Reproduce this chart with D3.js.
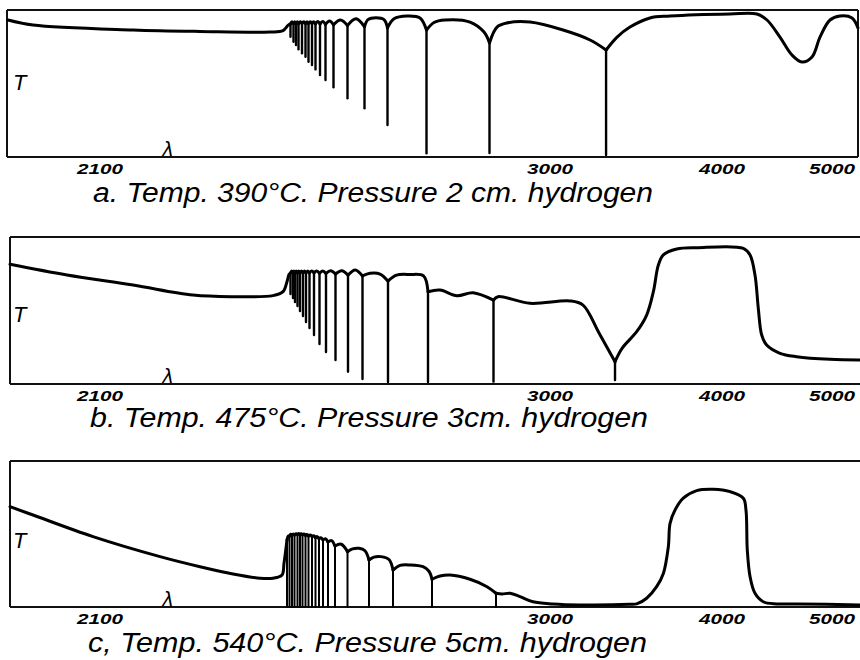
<!DOCTYPE html>
<html><head><meta charset="utf-8">
<script src="https://cdn.jsdelivr.net/npm/d3@7"></script>
<style>body{margin:0;background:#fff}svg{display:block}</style>
</head><body>
<svg id="chart" width="860" height="660"></svg>
<script>
// ---- data (wavelength λ in Å, transmission T in % of panel height) ----
const tickValues = [2100, 3000, 4000, 5000];
const tickLabels = ["2100", "3000", "4000", "5000"];
const captions = [
  "a. Temp. 390°C. Pressure  2 cm. hydrogen",
  "b. Temp. 475°C. Pressure 3cm. hydrogen",
  "c, Temp. 540°C. Pressure 5cm. hydrogen"
];

// Panel a: 390°C, 2 cm H2
const curveA = [
  [1916,93.2],[1966,89.8],[2166,86.4],[2300,85.4],[2440,85.0],[2466,86.0],[2476,89.5],
  [2481,90.5],[2484,92.0],[2487,90.8],[2489.5,92.0],[2492,90.8],[2494.5,92.0],[2497,90.8],
  [2500.5,92.0],[2504,90.8],[2507.5,92.0],[2511,90.8],[2514,92.0],[2517,90.8],[2520.5,92.0],
  [2524,90.8],[2527.5,92.0],[2531,90.6],[2535.5,92.2],[2540,90.5],[2545.5,92.2],[2551,90.2],
  [2559,92.5],[2567,90.0],[2581,93.2],[2595,89.5],[2612,94.0],[2629,88.6],
  [2636,93.5],[2652,94.8],[2668,93.5],[2675,87.8],
  [2688,94.0],[2714,95.9],[2740,94.6],[2753,86.4],
  [2768,91.5],[2790,93.2],[2840,91.8],[2868,85.0],[2879,77.6],
  [2894,88.4],[2914,91.2],[2960,91.8],[3076,86.4],[3233,79.6],[3326,72.8],
  [3390,81.6],[3465,88.4],[3581,94.6],[3698,95.9],[4073,97.3],[4318,97.3],[4409,93.2],
  [4527,81.6],[4636,69.4],[4727,64.6],[4818,68.0],[4891,81.6],[4982,93.2],[5073,95.9],
  [5182,94.6],[5236,87.8]
];
const linesA = [
  [2481,81.8],[2487,78.4],[2492,76.2],[2497,73.3],[2504,70.5],[2511,68.2],[2517,64.8],
  [2524,62.6],[2531,59.6],[2540,55.8],[2551,52.4],[2567,47.4],[2595,39.9],[2629,33.1],
  [2675,21.8],[2753,2.5],[2879,2.7],[3326,1.4]
];

// Panel b: 475°C, 3 cm H2
const curveB = [
  [1920,81.4],[2034,74.1],[2166,67.3],[2286,60.5],[2366,59.4],[2446,60.1],[2466,62.8],
  [2474,69.6],[2478,74.5],
  [2481,75.5],[2483.5,76.9],[2486,75.6],[2488,76.9],[2490,75.6],[2492.5,76.9],[2495,75.6],
  [2497.5,76.9],[2500,75.6],[2503,76.9],[2506,75.6],[2509,76.9],[2512,75.6],[2515.5,76.9],
  [2519,75.6],[2523.5,76.9],[2528,75.6],[2533.5,76.9],[2539,75.4],[2545.5,76.9],[2552,75.2],
  [2561.5,77.0],[2571,74.8],[2583.5,77.1],[2596,74.1],[2610.5,77.6],[2625,73.5],
  [2640,75.3],[2660,74.8],[2676,70.0],[2693,74.1],[2720,74.5],[2747,73.5],[2756,62.8],
  [2780,63.9],[2814,60.1],[2846,62.1],[2887,57.1],
  [2896,59.4],[2960,54.9],[3116,56.5],[3192,53.7],[3285,34.7],[3378,15.2],
  [3419,24.3],[3504,35.6],[3562,46.9],[3601,62.8],[3630,80.9],[3659,87.8],[3737,91.8],
  [3853,92.7],[4194,92.3],[4255,87.8],[4300,74.1],[4330,51.5],[4361,33.3],[4406,26.5],
  [4527,20.9],[4679,18.6],[4982,16.8],[5255,16.3]
];
const linesB = [
  [2481,61.2],[2486,58.5],[2490,55.8],[2495,53.1],[2500,49.7],[2506,46.3],[2512,42.2],
  [2519,38.1],[2528,33.3],[2539,27.2],[2552,21.8],[2571,16.3],[2596,8.4],[2625,3.4],
  [2676,1.4],[2756,1.4],[2887,1.6],[3378,2.7]
];

// Panel c: 540°C, 5 cm H2
const curveC = [
  [1920,68.7],[1966,63.0],[2086,48.2],[2220,34.5],[2300,27.6],[2366,22.6],[2420,19.7],
  [2446,19.7],[2464,21.9],[2468,29.9],
  [2474,45.9],[2476.5,48.6],[2479,48.6],[2481.5,49.8],[2484,49.3],[2486.5,50.0],[2489,49.3],
  [2492,50.2],[2495,49.6],[2497.5,50.4],[2500,49.6],[2502.5,50.2],[2505,49.3],[2508,50.0],
  [2511,49.0],[2514,49.6],[2517,48.6],[2520.5,49.3],[2524,48.2],[2527.5,48.8],[2531,47.5],
  [2534.5,48.2],[2538,46.8],[2542,47.5],[2546,45.9],[2551,46.8],[2556,44.5],[2563,45.5],
  [2570,41.8],[2582.5,43.0],[2595,37.9],[2605,39.8],[2618,40.2],[2630,38.5],[2638,32.2],
  [2648,34.2],[2662,34.5],[2678,32.5],[2686,25.3],[2700,28.5],[2720,28.8],[2746,27.6],
  [2758,24.5],[2764,19.0],[2780,21.2],[2800,21.9],[2840,19.0],[2874,13.9],[2892,9.4],
  [2904,8.9],[2920,9.4],[2940,7.1],[2966,3.6],[3017,2.1],[3174,1.4],[3465,1.8],[3504,2.1],
  [3562,6.0],[3620,13.9],[3659,23.0],[3688,41.3],[3698,57.3],[3727,66.4],[3775,74.5],
  [3853,79.7],[3950,80.6],[4073,79.0],[4194,74.5],[4218,66.4],[4230,39.0],[4255,20.8],
  [4300,9.4],[4375,3.6],[4497,2.1],[4682,2.1],[5255,1.4]
];
const linesC = [
  [2474,0],[2479,0],[2484,0],[2489,0],[2495,0],[2500,0],[2505,0],[2511,0],[2517,0],
  [2524,0],[2531,0],[2538,0],[2546,0],[2556,0],[2570,0],[2595,0],[2638,0],[2686,0],
  [2764,0],[2892,0]
];

// ---- layout ----
const panels = [
  {curve: curveA, lines: linesA, top: 10,  h: 147, left: 7,  right: 858, rightBorder: true,  tY: 80, lineW: 2.4, caption: captions[0], capY: 202, capX: 93,  capW: 560},
  {curve: curveB, lines: linesB, top: 237, h: 147, left: 10, right: 860, rightBorder: false, tY: 85, lineW: 2.4, caption: captions[1], capY: 427, capX: 90,  capW: 558},
  {curve: curveC, lines: linesC, top: 461, h: 146, left: 10, right: 860, rightBorder: false, tY: 87, lineW: 2.0, caption: captions[2], capY: 652, capX: 88,  capW: 559}
];

const svg = d3.select("#chart");
const x = d3.scaleLinear().domain(tickValues).range([100, 550, 722, 832]);

panels.forEach(p => {
  const g = svg.append("g");
  const bottom = p.top + p.h;
  const y = d3.scaleLinear().domain([0, 100]).range([bottom, p.top]);

  // frame
  const frame = g.append("g").attr("stroke", "#111").attr("stroke-width", 2).attr("fill", "none");
  frame.append("line").attr("x1", p.left).attr("x2", p.right).attr("y1", p.top).attr("y2", p.top);
  frame.append("line").attr("x1", p.left).attr("x2", p.right).attr("y1", bottom).attr("y2", bottom);
  frame.append("line").attr("x1", p.left).attr("x2", p.left).attr("y1", p.top).attr("y2", bottom);
  if (p.rightBorder) frame.append("line").attr("x1", p.right).attr("x2", p.right).attr("y1", p.top).attr("y2", bottom);

  // absorption lines (from the envelope down)
  const lineSet = new Map(p.lines.map(d => [d[0], d[1]]));
  const topOf = new Map(p.curve.filter(d => lineSet.has(d[0])).map(d => [d[0], d[1]]));
  g.append("g").attr("stroke", "#000").attr("stroke-width", p.lineW).attr("stroke-linecap", "round")
    .selectAll("line").data(p.lines).join("line")
    .attr("x1", d => x(d[0])).attr("x2", d => x(d[0]))
    .attr("y1", d => y(topOf.get(d[0]))).attr("y2", d => y(d[1]));

  // envelope split into segments at each line (cusps)
  const segs = [];
  let cur = [];
  p.curve.forEach(pt => {
    cur.push(pt);
    if (lineSet.has(pt[0]) && cur.length > 1) { segs.push(cur); cur = [pt]; }
  });
  if (cur.length > 1) segs.push(cur);
  const line = d3.line().x(d => x(d[0])).y(d => y(d[1])).curve(d3.curveCatmullRom.alpha(0.5));
  g.append("g").attr("fill", "none").attr("stroke", "#000").attr("stroke-width", 3)
    .attr("stroke-linejoin", "round").attr("stroke-linecap", "round")
    .selectAll("path").data(segs).join("path").attr("d", line);

  // axis tick labels
  g.append("g").selectAll("text").data(tickValues).join("text")
    .attr("x", d => x(d)).attr("y", bottom + 17)
    .attr("text-anchor", "middle")
    .attr("font-family", "Liberation Sans, Arial, sans-serif")
    .attr("font-style", "italic").attr("font-weight", "bold").attr("font-size", 15)
    .attr("textLength", 46).attr("lengthAdjust", "spacingAndGlyphs")
    .text((d, i) => tickLabels[i]);

  // T and λ labels
  g.append("text").attr("x", 13).attr("y", p.top + p.tY)
    .attr("font-family", "Liberation Sans, Arial, sans-serif").attr("font-style", "italic")
    .attr("font-size", 22).text("T");
  g.append("text").attr("x", 168).attr("y", bottom - 1).attr("text-anchor", "middle")
    .attr("font-family", "DejaVu Sans, sans-serif").attr("font-style", "italic")
    .attr("font-size", 19).text("λ");

  // caption
  g.append("text").attr("x", p.capX).attr("y", p.capY)
    .attr("font-family", "Liberation Sans, Arial, sans-serif").attr("font-style", "italic")
    .attr("font-size", 27).attr("textLength", p.capW).attr("lengthAdjust", "spacingAndGlyphs")
    .text(p.caption);
});
</script>
</body></html>
